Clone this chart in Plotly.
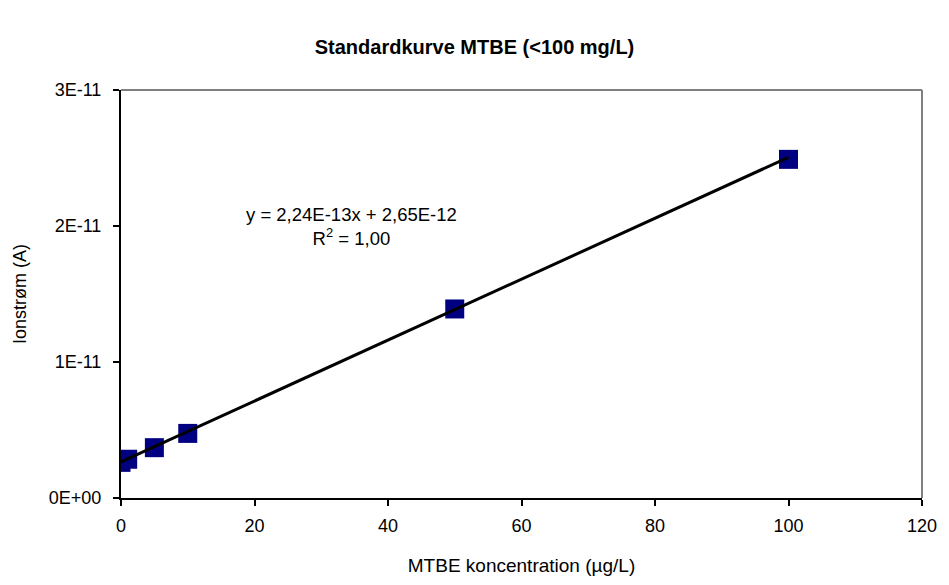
import plotly.graph_objects as go

# Calibration standards: MTBE concentration (µg/L) vs. ion current (A)
conc = [0, 1, 5, 10, 50, 100]
current = [2.62e-12, 2.85e-12, 3.70e-12, 4.75e-12, 1.39e-11, 2.49e-11]

# Linear fit reported on the chart
slope = 2.24e-13
intercept = 2.65e-12
fit_x = [0, 100]
fit_y = [slope * x + intercept for x in fit_x]

x_ticks = [0, 20, 40, 60, 80, 100, 120]
y_ticks = [0, 1e-11, 2e-11, 3e-11]
y_tick_text = ["0E+00", "1E-11", "2E-11", "3E-11"]

FONT = "Liberation Sans, Arial, sans-serif"
FS = 18

fig = go.Figure()
fig.add_trace(go.Scatter(
    x=conc, y=current, mode="markers",
    marker=dict(symbol="square", size=19, color="#000080", line=dict(width=0)),
    showlegend=False,
))
fig.add_trace(go.Scatter(
    x=fit_x, y=fit_y, mode="lines",
    line=dict(color="black", width=3),
    showlegend=False,
))

fig.add_annotation(
    x=34.5, y=2.0e-11, xref="x", yref="y",
    text="y = 2,24E-13x + 2,65E-12<br>R<sup>2</sup> = 1,00",
    showarrow=False, align="center",
    font=dict(family=FONT, size=18.5, color="black"),
)

# Gray frame on top and right of the plot area
fig.add_shape(type="line", xref="paper", yref="paper", x0=0, x1=1, y0=1, y1=1,
              line=dict(color="#808080", width=2))
fig.add_shape(type="line", xref="paper", yref="paper", x0=1, x1=1, y0=0, y1=1,
              line=dict(color="#808080", width=2))

fig.update_layout(
    width=949, height=585,
    paper_bgcolor="white", plot_bgcolor="white",
    margin=dict(l=121, r=21, t=90, b=85),
    font=dict(family=FONT, size=FS, color="black"),
    title=dict(
        text="<b>Standardkurve MTBE (<100 mg/L)</b>",
        x=0.5, xref="container", xanchor="center",
        y=1 - 47 / 585, yref="container", yanchor="middle",
        font=dict(family=FONT, size=20, color="black"),
    ),
    xaxis=dict(
        range=[0, 120], tickvals=x_ticks, ticktext=[str(v) for v in x_ticks],
        showgrid=False, zeroline=False,
        showline=True, linecolor="black", linewidth=2,
        ticks="outside", ticklen=6, tickwidth=2, tickcolor="black",
        ticklabelstandoff=4,
        title=dict(text="MTBE koncentration (µg/L)", standoff=24,
                   font=dict(family=FONT, size=19)),
        tickfont=dict(family=FONT, size=FS),
    ),
    yaxis=dict(
        range=[0, 3e-11], tickvals=y_ticks, ticktext=y_tick_text,
        showgrid=False, zeroline=False,
        showline=True, linecolor="black", linewidth=2,
        ticks="outside", ticklen=6, tickwidth=2, tickcolor="black",
        ticklabelstandoff=8,
        title=dict(text="Ionstrøm (A)", standoff=18,
                   font=dict(family=FONT, size=FS)),
        tickfont=dict(family=FONT, size=FS),
    ),
)

fig.write_html("out.html")
